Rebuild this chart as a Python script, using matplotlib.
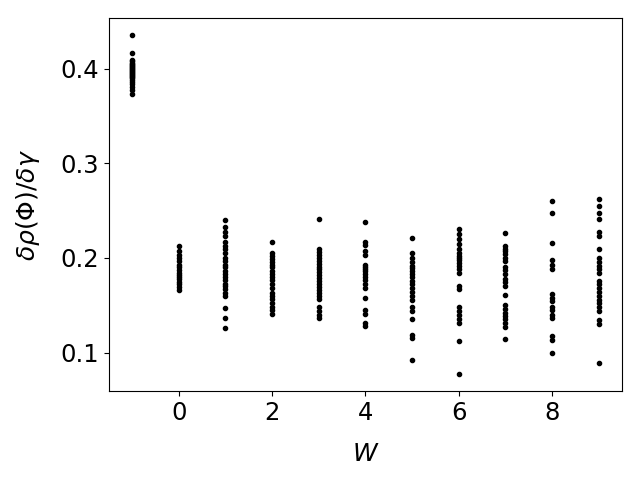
import matplotlib
matplotlib.use("Agg")
import matplotlib.pyplot as plt
import numpy as np

w_values = [-1, 0, 1, 2, 3, 4, 5, 6, 7, 8, 9]

vals_m1 = [0.436, 0.417, 0.410, 0.408, 0.406, 0.405, 0.404, 0.403, 0.402, 0.401, 0.400,
           0.399, 0.398, 0.397, 0.396, 0.395, 0.394, 0.393, 0.392, 0.390, 0.388, 0.386,
           0.384, 0.381, 0.378, 0.374]
vals_0 = [0.213, 0.207, 0.203, 0.200, 0.197, 0.193, 0.190, 0.187, 0.184, 0.182, 0.180,
          0.178, 0.175, 0.172, 0.169, 0.166]
vals_1 = [0.240, 0.233, 0.228, 0.223, 0.217, 0.213, 0.209, 0.205, 0.200, 0.197, 0.193,
          0.190, 0.186, 0.183, 0.180, 0.177, 0.173, 0.170, 0.167, 0.163, 0.160, 0.147,
          0.136, 0.126]
vals_2 = [0.217, 0.205, 0.202, 0.199, 0.196, 0.193, 0.190, 0.186, 0.183, 0.180, 0.177,
          0.172, 0.168, 0.163, 0.160, 0.157, 0.152, 0.148, 0.145, 0.141]
vals_3 = [0.241, 0.209, 0.206, 0.203, 0.200, 0.197, 0.194, 0.191, 0.188, 0.185, 0.182,
          0.179, 0.176, 0.172, 0.169, 0.166, 0.163, 0.160, 0.157, 0.148, 0.144, 0.140, 0.136]
vals_4 = [0.238, 0.217, 0.214, 0.207, 0.203, 0.193, 0.190, 0.188, 0.186, 0.183, 0.180,
          0.177, 0.173, 0.168, 0.158, 0.145, 0.141, 0.131, 0.128]
vals_5 = [0.221, 0.205, 0.200, 0.196, 0.192, 0.189, 0.186, 0.183, 0.180, 0.176, 0.172,
          0.168, 0.164, 0.160, 0.156, 0.148, 0.144, 0.135, 0.118, 0.115, 0.092]
vals_6 = [0.231, 0.225, 0.220, 0.215, 0.210, 0.205, 0.202, 0.200, 0.198, 0.195, 0.192,
          0.188, 0.184, 0.170, 0.167, 0.148, 0.144, 0.140, 0.135, 0.131, 0.112, 0.077]
vals_7 = [0.226, 0.213, 0.210, 0.207, 0.204, 0.200, 0.197, 0.190, 0.187, 0.183, 0.178,
          0.175, 0.170, 0.161, 0.150, 0.146, 0.142, 0.139, 0.135, 0.131, 0.127, 0.114]
vals_8 = [0.260, 0.248, 0.216, 0.198, 0.193, 0.188, 0.162, 0.158, 0.154, 0.148, 0.145,
          0.140, 0.136, 0.117, 0.113, 0.100]
vals_9 = [0.262, 0.255, 0.248, 0.241, 0.228, 0.223, 0.209, 0.200, 0.196, 0.192, 0.188,
          0.184, 0.176, 0.172, 0.168, 0.164, 0.160, 0.156, 0.152, 0.148, 0.144, 0.134,
          0.130, 0.089]

all_vals = [vals_m1, vals_0, vals_1, vals_2, vals_3, vals_4, vals_5, vals_6, vals_7, vals_8, vals_9]

y_ticks = [0.1, 0.2, 0.3, 0.4]
y_tick_labels = ['0.1', '0.2', '0.3', '0.4']

fig, ax = plt.subplots(figsize=(6.4, 4.8), dpi=100)
for w, vals in zip(w_values, all_vals):
    ax.plot([w] * len(vals), vals, 'k.')

ax.set_yticks(y_ticks)
ax.set_yticklabels(y_tick_labels)
ax.set_xlabel(r'$W$', fontsize=18, labelpad=12)
ax.set_ylabel(r'$\delta\rho(\Phi)/\delta\gamma$', fontsize=18, labelpad=13)
ax.tick_params(labelsize=17.5)
fig.subplots_adjust(left=0.170, right=0.972, top=0.9625, bottom=0.185)
fig.savefig("out.png", dpi=100)
